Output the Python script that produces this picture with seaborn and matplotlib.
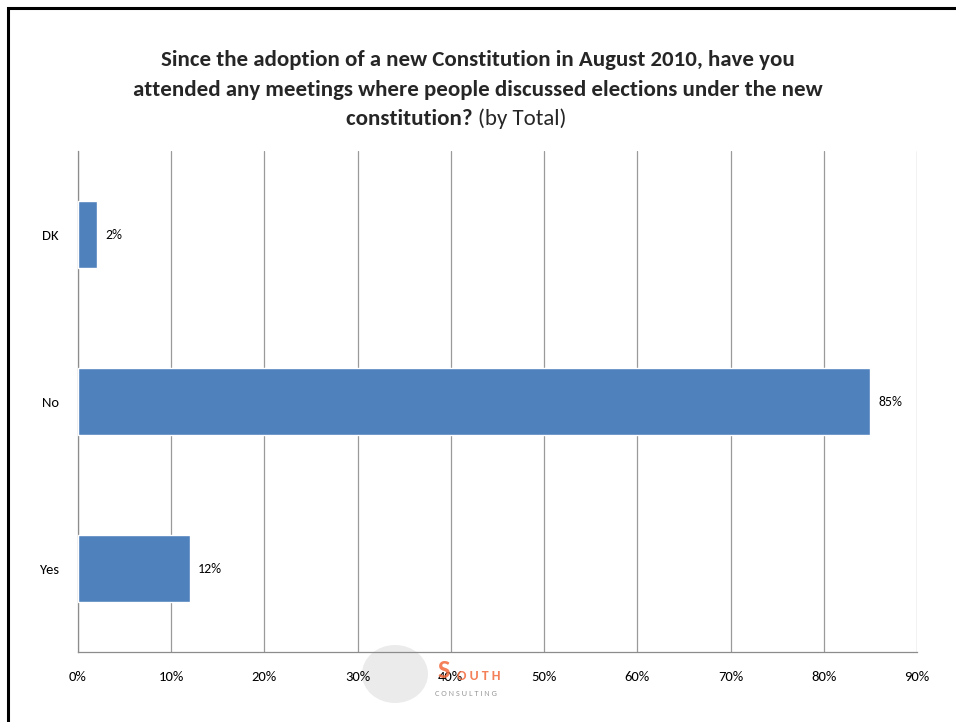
import matplotlib
matplotlib.use("Agg")
import matplotlib.pyplot as plt
import seaborn as sns
import pandas as pd
from matplotlib.ticker import FixedLocator, PercentFormatter
from matplotlib.patches import Rectangle, Ellipse

categories = ["DK", "No", "Yes"]
values = [2, 85, 12]
value_labels = ["2%", "85%", "12%"]
x_ticks = [0, 10, 20, 30, 40, 50, 60, 70, 80, 90]

sns.set_theme(style="white")
plt.rcParams["font.family"] = ["Carlito", "Lato", "DejaVu Sans"]

df = pd.DataFrame({"cat": categories, "val": values})

W, H = 956, 722
fig = plt.figure(figsize=(W / 100, H / 100), dpi=100)
ax = fig.add_axes([78 / W, 1 - 652 / H, (917 - 78) / W, (652 - 151) / H])
ax.patch.set_alpha(0)

sns.barplot(data=df, x="val", y="cat", order=categories, orient="h",
            color="#4F81BD", saturation=1, width=0.4, ax=ax, zorder=3)

ax.set_xlim(0, 90)
ax.set_ylim(2.5, -0.5)
ax.xaxis.set_major_locator(FixedLocator(x_ticks))
ax.xaxis.set_major_formatter(PercentFormatter(decimals=0))
ax.grid(axis="x", color="#9a9a9a", linewidth=0.9, zorder=0)
ax.grid(axis="y", visible=False)
for s in ["top", "right"]:
    ax.spines[s].set_visible(False)
for s in ["left", "bottom"]:
    ax.spines[s].set_color("#8c8c8c")
    ax.spines[s].set_linewidth(0.9)
ax.set_xlabel("")
ax.set_ylabel("")
ax.tick_params(axis="x", length=5, color="#8c8c8c", width=0.9, labelsize=10.5, pad=9, labelcolor="black")
ax.tick_params(axis="y", which="major", length=0, labelsize=10.5, pad=14, labelcolor="black")
ax.yaxis.set_minor_locator(FixedLocator([-0.5, 0.5, 1.5, 2.5]))
ax.tick_params(axis="y", which="minor", length=5, color="#8c8c8c", width=0.9)

for i, (v, lab) in enumerate(zip(values, value_labels)):
    ax.annotate(lab, xy=(v, i), xytext=(6, 0), textcoords="offset points",
                va="center", ha="left", fontsize=10, color="black")

# Title
ts = 16.5
fig.text(0.5, 1 - 60 / H, "Since the adoption of a new Constitution in August 2010, have you",
         ha="center", va="center", fontsize=ts, fontweight="bold")
fig.text(0.5, 1 - 90 / H, "attended any meetings where people discussed elections under the new",
         ha="center", va="center", fontsize=ts, fontweight="bold")
fig.text(0.5, 1 - 119 / H, "constitution? ", ha="right", va="center",
         fontsize=ts, fontweight="bold")
fig.text(0.5, 1 - 119 / H, "(by Total)", ha="left", va="center", fontsize=ts)

# Watermark logo (faint globe + SOUTH CONSULTING)
fig.patches.append(Ellipse((395 / W, 1 - 674 / H), 66 / W, 58 / H, transform=fig.transFigure,
                           facecolor="#e3e3e3", edgecolor="none", alpha=0.7, zorder=-1))
fig.text(438 / W, 1 - 671 / H, "S", color="#F26A3C", fontsize=19, fontweight="bold",
         ha="left", va="center", alpha=0.85)
fig.text(457 / W, 1 - 676 / H, "O U T H", color="#F26A3C", fontsize=10, fontweight="bold",
         ha="left", va="center", alpha=0.85)
fig.text(435 / W, 1 - 693 / H, "C O N S U L T I N G", color="#9a9a9a", fontsize=6,
         ha="left", va="center")

# Frame border (left and top)
fig.patches.append(Rectangle((8 / W, -0.01), 1.1, 1 - 8 / H + 0.01, transform=fig.transFigure,
                             fill=False, edgecolor="black", linewidth=2.2))

fig.savefig("out.png", dpi=100)
